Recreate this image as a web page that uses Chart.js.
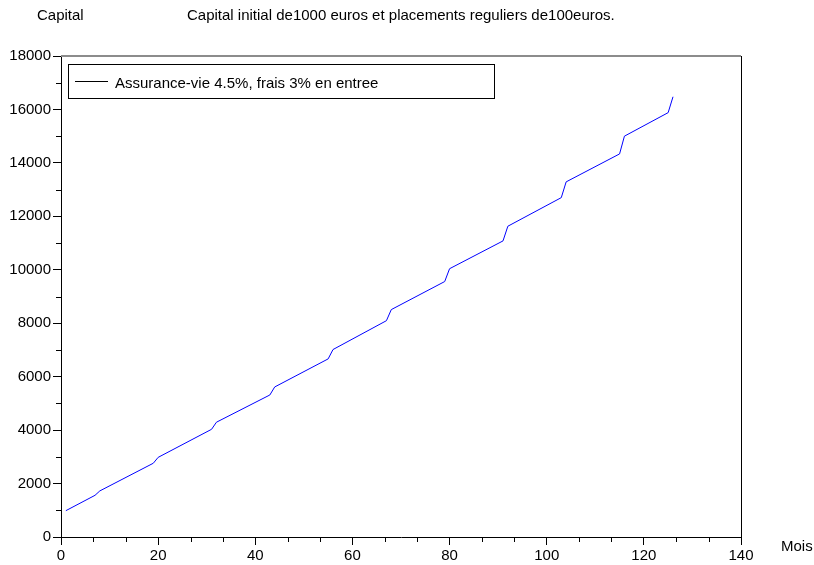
<!DOCTYPE html>
<html>
<head>
<meta charset="utf-8">
<script src="https://cdn.jsdelivr.net/npm/chart.js@4"></script>
<style>
html,body{margin:0;padding:0;background:#fff;}
#wrap{width:814px;height:565px;position:relative;}
</style>
</head>
<body>
<div id="wrap"><canvas id="c" width="814" height="565"></canvas></div>
<script>
// Data (vertices of the plotted line)
const months = [1, 7, 8, 19, 20, 31, 32, 43, 44, 55, 56, 67, 68, 79, 80, 91, 92, 103, 104, 115, 116, 125, 126];
const capital = [985, 1560, 1725, 2760, 2980, 4030, 4295, 5315, 5615, 6665, 7015, 8095, 8510, 9560, 10040, 11080, 11630, 12700, 13290, 14335, 15000, 15880, 16475];
const seriesLabel = 'Assurance-vie 4.5%, frais 3% en entree';
const yAxisTitle = 'Capital';
const xAxisTitle = 'Mois';
const chartTitle = 'Capital initial de1000 euros et placements reguliers de100euros.';
const xTickValues = [0, 20, 40, 60, 80, 100, 120, 140];
const yTickValues = [0, 2000, 4000, 6000, 8000, 10000, 12000, 14000, 16000, 18000];

const FONT = '"Liberation Sans", Arial, sans-serif';

const extras = {
  id: 'extras',
  afterDraw(chart) {
    const ctx = chart.ctx;
    const a = chart.chartArea;
    const xs = chart.scales.x, ys = chart.scales.y;
    ctx.save();
    // frame: top (grey) and right (black)
    ctx.strokeStyle = '#8c8c8c';
    ctx.lineWidth = 2;
    ctx.beginPath(); ctx.moveTo(a.left, a.top); ctx.lineTo(a.right, a.top); ctx.stroke();
    ctx.strokeStyle = '#000';
    ctx.lineWidth = 1;
    ctx.beginPath(); ctx.moveTo(a.right + 0.5, a.top); ctx.lineTo(a.right + 0.5, a.bottom); ctx.stroke();
    // minor ticks x (every 20/3)
    ctx.beginPath();
    for (let k = 1; k < 21; k++) {
      if (k % 3 === 0) continue;
      const px = Math.round(xs.getPixelForValue(k * 20 / 3)) + 0.5;
      ctx.moveTo(px, a.bottom); ctx.lineTo(px, a.bottom + 5);
    }
    // minor ticks y (every 1000)
    for (let v = 1000; v < 18000; v += 2000) {
      const py = Math.round(ys.getPixelForValue(v)) + 0.5;
      ctx.moveTo(a.left, py); ctx.lineTo(a.left - 5, py);
    }
    ctx.stroke();
    // texts
    ctx.fillStyle = '#000';
    ctx.font = '15px ' + FONT;
    ctx.textBaseline = 'alphabetic';
    ctx.textAlign = 'left';
    ctx.fillText(yAxisTitle, 37, 20);
    ctx.fillText(chartTitle, 187, 20);
    ctx.fillText(xAxisTitle, 781, 551);
    // legend box
    ctx.strokeStyle = '#000';
    ctx.lineWidth = 1;
    ctx.strokeRect(68.5, 64.5, 426, 34);
    ctx.beginPath(); ctx.moveTo(75, 81.5); ctx.lineTo(108, 81.5); ctx.stroke();
    ctx.fillText(chart.data.datasets[0].label, 115, 88);
    ctx.restore();
  }
};

new Chart(document.getElementById('c'), {
  type: 'scatter',
  data: {
    datasets: [{
      label: seriesLabel,
      data: months.map((m, i) => ({x: m, y: capital[i]})),
      showLine: true,
      borderColor: 'rgb(0,0,255)',
      borderWidth: 1,
      pointRadius: 0,
      fill: false,
      tension: 0
    }]
  },
  options: {
    responsive: false,
    devicePixelRatio: 1,
    animation: false,
    layout: { padding: { left: 0, top: 56, right: 73, bottom: 0 } },
    plugins: { legend: { display: false }, tooltip: { enabled: false }, title: { display: false } },
    scales: {
      x: {
        type: 'linear', min: 0, max: 140,
        afterFit(s) { s.height = 28; },
        afterBuildTicks(s) { s.ticks = xTickValues.map(v => ({value: v})); },
        grid: { drawOnChartArea: false, drawTicks: true, tickLength: 8, color: '#000', tickColor: '#000' },
        border: { display: true, color: '#000', width: 1 },
        ticks: { color: '#000', font: { family: FONT, size: 15 }, padding: 2, maxRotation: 0, autoSkip: false,
                 callback: v => String(v) }
      },
      y: {
        type: 'linear', min: 0, max: 18000,
        afterFit(s) { s.width = 61; },
        afterBuildTicks(s) { s.ticks = yTickValues.map(v => ({value: v})); },
        grid: { drawOnChartArea: false, drawTicks: true, tickLength: 8, color: '#000', tickColor: '#000' },
        border: { display: true, color: '#000', width: 1 },
        ticks: { color: '#000', font: { family: FONT, size: 15 }, padding: 2, autoSkip: false,
                 callback: v => String(v) }
      }
    }
  },
  plugins: [extras]
});
</script>
</body>
</html>
